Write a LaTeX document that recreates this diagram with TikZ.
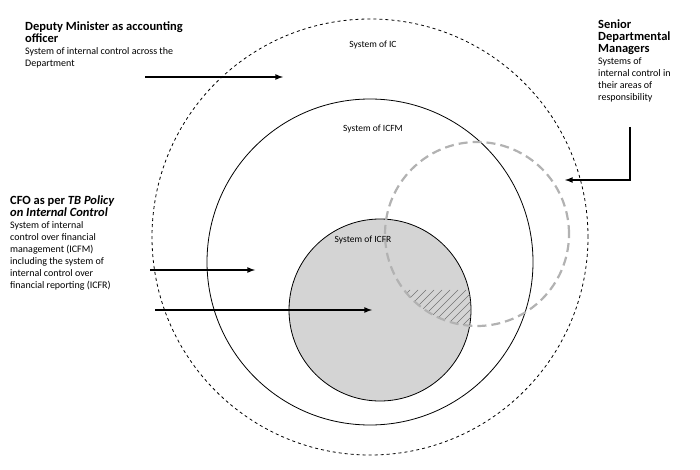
\documentclass[tikz,border=0pt]{standalone}
\usepackage{fontspec}
\setmainfont{Carlito}
\usetikzlibrary{patterns}
\newcommand\hfnt{\fontsize{12.5}{15}\selectfont\bfseries}
\newcommand\bfnt{\fontsize{10}{13.5}\selectfont\mdseries\upshape}
\begin{document}
\begin{tikzpicture}[x=1pt,y=-1pt,
  lbl/.style={align=left,anchor=north west,inner sep=0pt},
  arr/.style={-latex,line width=1.6pt},
  ctr/.style={font=\fontsize{9.5}{11}\selectfont,inner sep=0pt}]
\useasboundingbox (0,0) rectangle (700,470);
\node[circle,draw,dashed,line width=0.8pt,minimum size=436pt,inner sep=0pt] (ic) at (370,237) {};
\node[circle,draw,line width=0.8pt,minimum size=326pt,inner sep=0pt] (icfm) at (370,262) {};
\node[circle,draw,fill=black!17,line width=0.8pt,minimum size=182pt,inner sep=0pt] (icfr) at (380,310) {};
\begin{scope}
\clip (380,310) circle (91);
\clip (477,234) circle (92);
\foreach \k in {-30,...,30} {
  \draw[black!55,line width=0.5pt] (380+\k*8,400) -- ++(110,-110);
}
\end{scope}
\node[circle,draw=black!30,dash pattern=on 9pt off 5pt,line width=2.2pt,minimum size=184pt,inner sep=0pt] (mgr) at (477,234) {};
\node[ctr] (t1) at (373,45) {System of IC};
\node[ctr] (t2) at (373,129) {System of ICFM};
\node[ctr] (t3) at (363,240) {System of ICFR};
\node[lbl] (dm) at (25,22) {\hfnt Deputy Minister as accounting\\ \hfnt officer\\ \bfnt System of internal control across the\\ \bfnt Department};
\node[lbl] (sm) at (598,20) {\hfnt Senior\\ \hfnt Departmental\\ \hfnt Managers\\ \bfnt Systems of\\ \bfnt internal control in\\ \bfnt their areas of\\ \bfnt responsibility};
\node[lbl] (cfo) at (10,196) {\hfnt CFO as per \itshape TB Policy\\ \hfnt\itshape on Internal Control\\ \bfnt System of internal\\ \bfnt control over financial\\ \bfnt management (ICFM)\\ \bfnt including the system of\\ \bfnt internal control over\\ \bfnt financial reporting (ICFR)};
\coordinate (a1s) at (145,77); \coordinate (a1e) at (283,77);
\draw[arr] (a1s) -- (a1e);
\coordinate (a2s) at (630,127); \coordinate (a2m) at (630,180); \coordinate (a2e) at (565,180);
\draw[arr] (a2s) -- (a2m) -- (a2e);
\coordinate (a3s) at (150,270); \coordinate (a3e) at (255,270);
\draw[arr] (a3s) -- (a3e);
\coordinate (a4s) at (155,310); \coordinate (a4e) at (372,310);
\draw[arr] (a4s) -- (a4e);
\end{tikzpicture}
\end{document}
